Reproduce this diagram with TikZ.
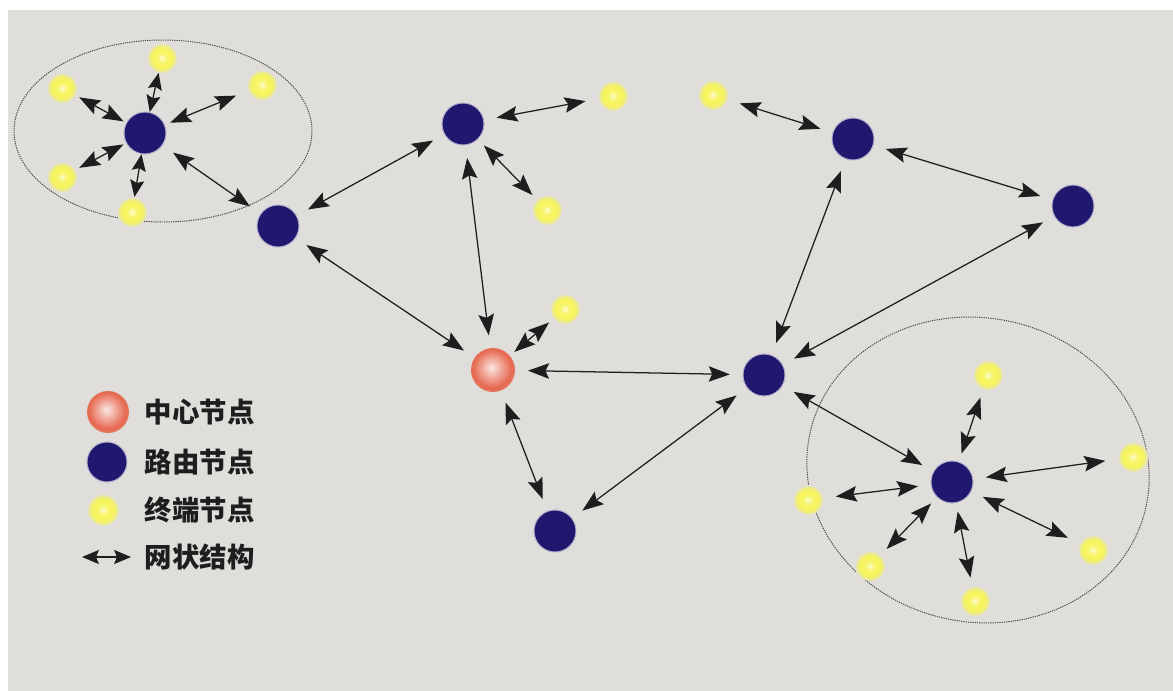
\documentclass[tikz,border=0pt]{standalone}
\usepackage{fontspec}
\newfontfamily\cjk{Noto Sans CJK SC}
\usetikzlibrary{arrows.meta}

\definecolor{bggray}{RGB}{224,222,218}
\definecolor{navy}{RGB}{32,24,110}
\definecolor{salmon}{RGB}{230,104,80}
\definecolor{lemon}{RGB}{246,244,90}
\definecolor{ink}{RGB}{30,30,30}

\pgfdeclareradialshading{hubshade}{\pgfpoint{-2bp}{3bp}}{color(0bp)=(white!85!salmon); color(10bp)=(salmon!55!white); color(22bp)=(salmon); color(25bp)=(salmon!90!bggray); color(50bp)=(bggray)}
\pgfdeclareradialshading{leafshade}{\pgfpoint{0bp}{0bp}}{color(0bp)=(white!70!lemon); color(8bp)=(lemon!90!white); color(16bp)=(lemon); color(22bp)=(lemon!55!bggray); color(25bp)=(bggray); color(50bp)=(bggray)}

\tikzset{
  router/.style={circle, fill=navy, draw=navy!35!white, line width=0.7pt, minimum size=1.05cm, inner sep=0pt},
  hub/.style={circle, shading=hubshade, minimum size=1.1cm, inner sep=0pt},
  leaf/.style={circle, shading=leafshade, minimum size=0.75cm, inner sep=0pt},
  link/.style={<->, >={Stealth[length=15pt, width=11pt, inset=2.5pt]}, ink, line width=0.9pt, shorten <=9pt, shorten >=9pt},
  shortlink/.style={link, >={Stealth[length=12pt, width=10pt, inset=2pt]}, shorten <=0pt, shorten >=0pt},
  cluster/.style={draw=ink!80, line width=0.7pt, dash pattern=on 0.9pt off 0.7pt},
  legendtext/.style={anchor=west, text=ink, font=\cjk\bfseries\fontsize{19.5}{22}\selectfont}
}

\begin{document}
\begin{tikzpicture}[x=0.025cm, y=-0.025cm]

  % 背景
  \useasboundingbox (0,0) rectangle (1173,691);
  \fill[bggray] (8,10) rectangle (1173,691);

  % 虚线区域
  \draw[cluster] (163,131) ellipse [x radius=149, y radius=91];
  \draw[cluster, rotate around={-12:(978,470)}] (978,470) ellipse [x radius=172, y radius=152];

  % 中心节点
  \node[hub] (hub) at (493,370) {};

  % 路由节点
  \node[router] (r1) at (145,133) {};
  \node[router] (r2) at (278,226) {};
  \node[router] (r3) at (463,124) {};
  \node[router] (r4) at (853,139) {};
  \node[router] (r5) at (1073,206) {};
  \node[router] (r6) at (764,375) {};
  \node[router] (r7) at (555,531) {};
  \node[router] (r8) at (952,482) {};

  % 终端节点
  \node[leaf] (t1) at (62,88) {};
  \node[leaf] (t2) at (162,58) {};
  \node[leaf] (t3) at (262,85) {};
  \node[leaf] (t4) at (62,177) {};
  \node[leaf] (t5) at (132,212) {};
  \node[leaf] (t6) at (613,96) {};
  \node[leaf] (t7) at (547,210) {};
  \node[leaf] (t8) at (565,309) {};
  \node[leaf] (t9) at (713,95) {};
  \node[leaf] (t10) at (988,375) {};
  \node[leaf] (t11) at (1133,457) {};
  \node[leaf] (t12) at (808,500) {};
  \node[leaf] (t13) at (870,566) {};
  \node[leaf] (t14) at (1093,550) {};
  \node[leaf] (t15) at (975,601) {};

  % 左上簇
  \draw[link, shorten <=2pt, shorten >=3pt] (r1) -- (t1);
  \draw[shortlink] (r1) -- (t2);
  \draw[link, shorten <=4pt] (r1) -- (t3);
  \draw[link, shorten <=2pt, shorten >=3pt] (r1) -- (t4);
  \draw[shortlink] (r1) -- (t5);
  \draw[link] (r1) -- (r2);

  % 网状连接
  \draw[link] (r2) -- (r3);
  \draw[link] (r2) -- (hub);
  \draw[link] (r3) -- (t6);
  \draw[link, shorten <=6pt, shorten >=4pt] (r3) -- (t7);
  \draw[link] (r3) -- (hub);
  \draw[link, shorten <=4pt, shorten >=4pt] (hub) -- (t8);
  \draw[link] (hub) -- (r6);
  \draw[link] (hub) -- (r7);
  \draw[link] (r7) -- (r6);
  \draw[link] (r4) -- (t9);
  \draw[link] (r4) -- (r5);
  \draw[link] (r4) -- (r6);
  \draw[link] (r5) -- (r6);
  \draw[link] (r6) -- (r8);

  % 右下簇
  \draw[link, shorten <=6pt, shorten >=6pt] (r8) -- (t10);
  \draw[link] (r8) -- (t11);
  \draw[link] (r8) -- (t12);
  \draw[link, shorten <=6pt, shorten >=6pt] (r8) -- (t13);
  \draw[link] (r8) -- (t14);
  \draw[link, shorten <=6pt, shorten >=6pt] (r8) -- (t15);

  % 图例
  \node[hub, minimum size=1.05cm] (khub) at (108,412) {};
  \node[router, minimum size=1.0cm] (krouter) at (107,462) {};
  \node[leaf, minimum size=0.8cm] (kleaf) at (103,510) {};
  \coordinate (ka) at (82,557);
  \coordinate (kb) at (131,557);
  \draw[shortlink] (ka) -- (kb);
  \node[legendtext] (khubtext) at (140,412) {中心节点};
  \node[legendtext] (kroutertext) at (140,462) {路由节点};
  \node[legendtext] (kleaftext) at (140,510) {终端节点};
  \node[legendtext] (klinktext) at (140,557) {网状结构};

\end{tikzpicture}
\end{document}
